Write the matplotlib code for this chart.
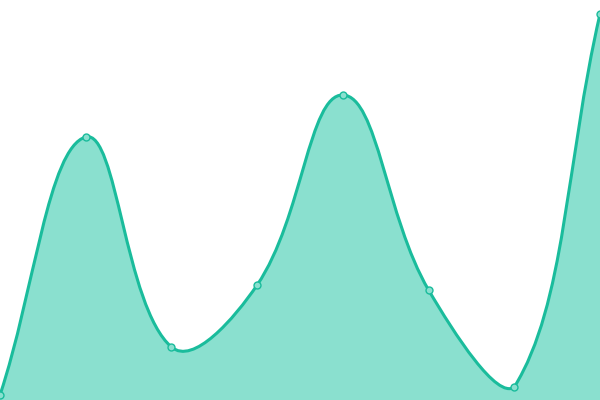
import numpy as np
import matplotlib
matplotlib.use("Agg")
import matplotlib.pyplot as plt
from matplotlib.path import Path
from matplotlib.patches import PathPatch

x_vals = [0, 1, 2, 3, 4, 5, 6, 7]
y_vals = [5, 263, 53, 115, 305, 110, 13, 386]

line_color = "#1abc9c"
fill_color = "#8ae0cf"
TENSION = 0.4
XMAX, YMAX = 7, 400
W, H = 600, 400  # pixel size of the plot area


def spline_control_points(xs, ys):
    # Chart.js-style spline, computed in pixel space, control points capped to the area
    px = np.asarray(xs, float) * W / XMAX
    py = np.asarray(ys, float) * H / YMAX
    n = len(px)
    cps = []
    for i in range(n):
        a = max(i - 1, 0); c = min(i + 1, n - 1)
        d01 = np.hypot(px[i] - px[a], py[i] - py[a])
        d12 = np.hypot(px[c] - px[i], py[c] - py[i])
        tot = d01 + d12
        s01 = d01 / tot if tot else 0
        s12 = d12 / tot if tot else 0
        fa, fb = TENSION * s01, TENSION * s12
        dx, dy = px[c] - px[a], py[c] - py[a]
        prev_cp = (np.clip(px[i] - fa * dx, 0, W), np.clip(py[i] - fa * dy, 0, H))
        next_cp = (np.clip(px[i] + fb * dx, 0, W), np.clip(py[i] + fb * dy, 0, H))
        cps.append((prev_cp, next_cp))
    to_data = lambda p: (p[0] * XMAX / W, p[1] * YMAX / H)
    verts = [(xs[0], ys[0])]
    codes = [Path.MOVETO]
    for i in range(n - 1):
        verts += [to_data(cps[i][1]), to_data(cps[i + 1][0]), (xs[i + 1], ys[i + 1])]
        codes += [Path.CURVE4] * 3
    return verts, codes


verts, codes = spline_control_points(x_vals, y_vals)

fig = plt.figure(figsize=(6, 4), dpi=100)
ax = fig.add_axes([0, 0, 1, 1])

fill_verts = verts + [(x_vals[-1], 0), (x_vals[0], 0), (x_vals[0], y_vals[0])]
fill_codes = codes + [Path.LINETO, Path.LINETO, Path.CLOSEPOLY]
ax.add_patch(PathPatch(Path(fill_verts, fill_codes), facecolor=fill_color, edgecolor="none"))
ax.add_patch(PathPatch(Path(verts, codes), facecolor="none", edgecolor=line_color,
                       linewidth=2.2, capstyle="round", joinstyle="round"))
ax.plot(x_vals, y_vals, linestyle="none", marker="o", markersize=5,
        markerfacecolor=fill_color, markeredgecolor=line_color, markeredgewidth=1, clip_on=False)
ax.set_xlim(0, XMAX)
ax.set_ylim(0, YMAX)
ax.axis("off")
fig.savefig("out.png", dpi=100)
